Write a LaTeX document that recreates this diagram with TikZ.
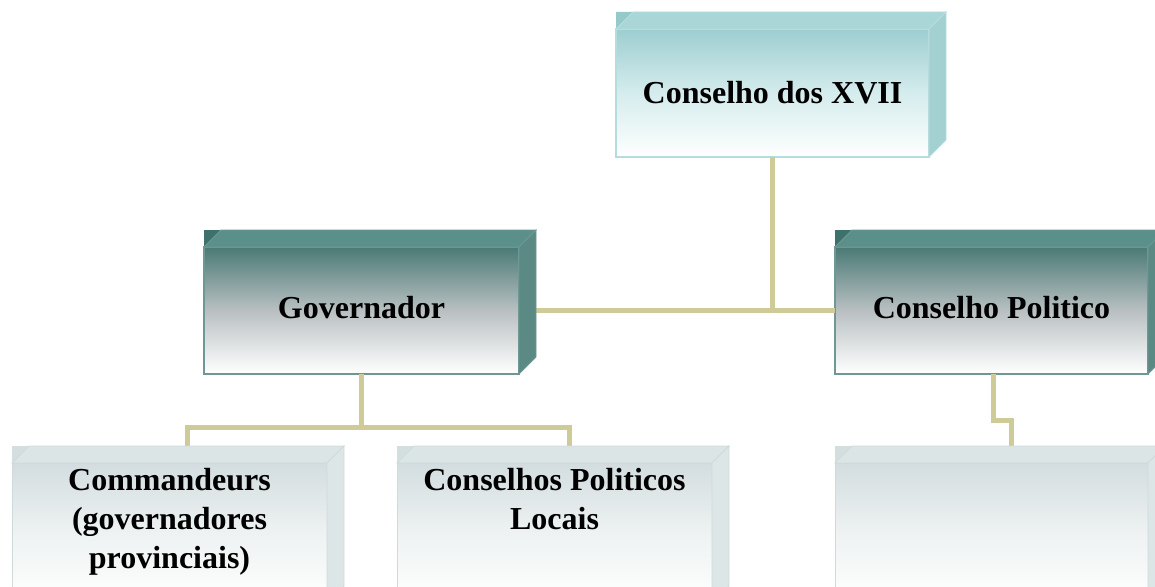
\documentclass[tikz,border=0pt]{standalone}
\usepackage{fontspec}
\setmainfont{Liberation Serif}
\definecolor{connc}{HTML}{CFCB98}
% top box (light teal)
\definecolor{aTop}{HTML}{A9D6D6}
\definecolor{aSide}{HTML}{A3D1D1}
\definecolor{aCorner}{HTML}{96CACA}
\definecolor{aFront}{HTML}{9DCED0}
\definecolor{aMid}{HTML}{D5ECED}
\definecolor{aBorder}{HTML}{B6DDDD}
% dark teal boxes
\definecolor{bTop}{HTML}{5A8F8A}
\definecolor{bSide}{HTML}{5B8A85}
\definecolor{bCorner}{HTML}{3F716C}
\definecolor{bFront}{HTML}{4A7A75}
\definecolor{bMid}{HTML}{B9C0C2}
\definecolor{bBorder}{HTML}{6F9894}
% light grey boxes
\definecolor{cTop}{HTML}{DCE5E5}
\definecolor{cSide}{HTML}{DDE6E6}
\definecolor{cCorner}{HTML}{D3DEDE}
\definecolor{cFront}{HTML}{D3DDDF}
\definecolor{cMid}{HTML}{EEF2F2}
\definecolor{cBorder}{HTML}{D0DADA}
\newcommand\cubesides[5]{%
  \fill[#4] (#1.north west) -- ++(0,-17) -- ++(17,0) -- cycle;
  \filldraw[fill=#2, draw=#5, line width=0.8pt] (#1.north west) -- ++(17,-17) -- ([shift={(17pt,17pt)}]#1.north east) -- (#1.north east) -- cycle;
  \filldraw[fill=#3, draw=#5, line width=0.8pt] (#1.north east) -- ([shift={(17pt,17pt)}]#1.north east) -- ([shift={(17pt,17pt)}]#1.south east) -- (#1.south east) -- cycle;
}
\begin{document}
\begin{tikzpicture}[x=1pt,y=-1pt,
  conn/.style={draw=connc, line width=5pt, line join=miter},
  lbl/.style={font=\fontsize{32}{39}\selectfont\bfseries, align=center, inner sep=0pt},
  frontA/.style={rectangle, inner sep=0pt, outer sep=0pt, shade, top color=aFront, bottom color=white, middle color=aMid, draw=aBorder, line width=1.2pt},
  frontB/.style={rectangle, inner sep=0pt, outer sep=0pt, shade, top color=bFront, bottom color=white, middle color=bMid, draw=bBorder, line width=1.2pt},
  frontC/.style={rectangle, inner sep=0pt, outer sep=0pt, shade, top color=cFront, bottom color=white, middle color=cMid, draw=cBorder, line width=1pt}
]
\useasboundingbox (0,0) rectangle (1155,586);
\clip (0,0) rectangle (1155,586);

% front faces (nodes)
\node[frontA, minimum width=313pt, minimum height=128pt] (top) at (772.5,93) {};
\node[frontB, minimum width=315pt, minimum height=127pt] (gov) at (361.5,310.5) {};
\node[frontB, minimum width=313pt, minimum height=127pt] (cp) at (991.5,310.5) {};
\node[frontC, minimum width=315pt, minimum height=140pt] (c1) at (169.5,533) {};
\node[frontC, minimum width=315pt, minimum height=140pt] (c2) at (554.5,533) {};
\node[frontC, minimum width=313pt, minimum height=140pt] (c3) at (991.5,533) {};

% connector junctions
\coordinate (j1) at (187,427);
\coordinate (j2) at (569,427);
\coordinate (k1) at (993,420);
\coordinate (k2) at (1011,420);

% connectors
\draw[conn] (top.south) -- (top.south |- gov.east);
\draw[conn] (gov.east) -- (cp.west);
\draw[conn] (gov.south) -- (gov.south |- j1);
\draw[conn] (j1 |- c1.north) -- (j1) -- (j2) -- (j2 |- c2.north);
\draw[conn] (k1 |- cp.south) -- (k1) -- (k2) -- (k2 |- c3.north);

% cube faces
\cubesides{top}{aTop}{aSide}{aCorner}{aBorder}
\cubesides{gov}{bTop}{bSide}{bCorner}{bBorder}
\cubesides{cp}{bTop}{bSide}{bCorner}{bBorder}
\cubesides{c1}{cTop}{cSide}{cCorner}{cBorder}
\cubesides{c2}{cTop}{cSide}{cCorner}{cBorder}
\cubesides{c3}{cTop}{cSide}{cCorner}{cBorder}

% labels
\node[lbl] (t0) at (top.center) {Conselho dos XVII};
\node[lbl] (t1) at ([yshift=3pt]gov.center) {Governador};
\node[lbl] (t2) at ([yshift=3pt]cp.center) {Conselho Politico};
\node[lbl, anchor=north] (t3) at ([yshift=-5pt]c1.north) {Commandeurs\\(governadores\\provinciais)};
\node[lbl, anchor=north] (t4) at ([yshift=-5pt]c2.north) {Conselhos Politicos\\Locais};
\end{tikzpicture}
\end{document}
